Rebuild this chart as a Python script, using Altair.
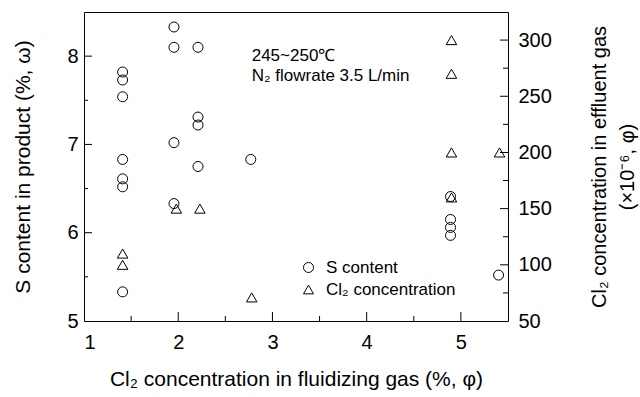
import altair as alt
import pandas as pd

# S content (left axis)
s_x = [1.41, 1.41, 1.41, 1.41, 1.41, 1.41, 1.41,
       1.955, 1.955, 1.955, 1.955,
       2.21, 2.21, 2.21, 2.21,
       2.77,
       4.89, 4.89, 4.89, 4.89,
       5.40]
s_y = [7.82, 7.73, 7.54, 6.83, 6.61, 6.52, 5.33,
       8.33, 8.10, 7.02, 6.33,
       8.10, 7.31, 7.22, 6.75,
       6.83,
       6.41, 6.15, 6.06, 5.97,
       5.52]

# Cl2 concentration in effluent gas (right axis)
c_x = [1.41, 1.41, 1.98, 2.23, 2.78, 4.90, 4.90, 4.90, 4.90, 5.41]
c_y = [110, 100, 150, 150, 71, 300, 270, 200, 160, 200]

x_major = [2, 3, 4, 5]
x_minor = [1.5, 2.5, 3.5, 4.5]
l_major = [6, 7, 8]
l_minor = [5.5, 6.5, 7.5]
r_major = [100, 150, 200, 250, 300]
r_minor = [75, 125, 175, 225, 275]

ann_x = [2.78, 2.78]
ann_y = [8.0, 7.78]
ann_t = ["245~250\u2103", "N\u2082 flowrate 3.5 L/min"]

series = ["S content", "Cl\u2082 concentration"]

FONT = "Liberation Sans"
W, H = 424, 309

xscale = alt.Scale(domain=[1, 5.5], nice=False, zero=False)
lscale = alt.Scale(domain=[5, 8.5], nice=False, zero=False)
rscale = alt.Scale(domain=[50, 325], nice=False, zero=False)

xaxis = alt.Axis(values=[1, 2, 3, 4, 5], format="d", labelPadding=11,
                 titlePadding=16, titleFontSize=21,
                 title="Cl\u2082 concentration in fluidizing gas (%, \u03c6)")
laxis = alt.Axis(values=[5, 6, 7, 8], format="d", labelPadding=6,
                 titlePadding=33, titleFontSize=21,
                 title="S content in product (%, \u03c9)")
raxis = alt.Axis(orient="right", values=[50] + r_major, format="d",
                 labelPadding=10, titlePadding=30, titleAngle=270,
                 titleLineHeight=28,
                 title=["Cl\u2082 concentration in effluent gas",
                        "(\u00d710\u207b\u2076, \u03c6)"])

shape_scale = alt.Scale(domain=series, range=["circle", "triangle-up"])
legend = alt.Legend(title=None, orient="none", legendX=216, legendY=247,
                    labelFontSize=17, labelFont=FONT, labelColor="black",
                    symbolStrokeColor="black", symbolFillColor="transparent",
                    symbolStrokeWidth=1, symbolSize=100, rowPadding=4,
                    labelOffset=9, padding=0)

s_df = pd.DataFrame({"x": s_x, "y": s_y, "series": series[0]})
c_df = pd.DataFrame({"x": c_x, "y": c_y, "series": series[1]})

circles = alt.Chart(s_df).mark_point(filled=False, color="black", size=100,
                                     strokeWidth=1, opacity=1).encode(
    x=alt.X("x:Q", scale=xscale, axis=xaxis),
    y=alt.Y("y:Q", scale=lscale, axis=laxis),
    shape=alt.Shape("series:N", scale=shape_scale, legend=legend),
)

triangles = alt.Chart(c_df).mark_point(filled=False, color="black", size=110,
                                       strokeWidth=1, opacity=1).encode(
    x=alt.X("x:Q", scale=xscale, axis=xaxis),
    y=alt.Y("y:Q", scale=rscale, axis=raxis),
    shape=alt.Shape("series:N", scale=shape_scale, legend=legend),
)

ann = alt.Chart(pd.DataFrame({"x": ann_x, "y": ann_y, "t": ann_t})).mark_text(
    align="left", baseline="middle", fontSize=17, font=FONT, color="black"
).encode(
    x=alt.X("x:Q", scale=xscale, axis=xaxis),
    y=alt.Y("y:Q", scale=lscale, axis=laxis),
    text="t:N",
)


def xticks(vals, length):
    return alt.Chart(pd.DataFrame({"v": vals})).mark_rule(
        color="black", strokeWidth=1).encode(
        x=alt.X("v:Q", scale=xscale, axis=xaxis),
        y=alt.value(H), y2=alt.value(H - length))


def lticks(vals, length):
    return alt.Chart(pd.DataFrame({"v": vals})).mark_rule(
        color="black", strokeWidth=1).encode(
        y=alt.Y("v:Q", scale=lscale, axis=laxis),
        x=alt.value(0), x2=alt.value(length))


def rticks(vals, length):
    return alt.Chart(pd.DataFrame({"v": vals})).mark_rule(
        color="black", strokeWidth=1).encode(
        y=alt.Y("v:Q", scale=rscale, axis=raxis),
        x=alt.value(W), x2=alt.value(W - length))


left = alt.layer(circles, ann, lticks(l_major, 8), lticks(l_minor, 4),
                 xticks(x_major, 9), xticks(x_minor, 5))
right = alt.layer(triangles, rticks(r_major, 8), rticks(r_minor, 5))

chart = alt.layer(left, right).resolve_scale(y="independent").properties(
    width=W, height=H, background="white",
    autosize=alt.AutoSizeParams(type="none"),
    padding={"left": 84, "top": 12, "right": 640 - 84 - W,
             "bottom": 397 - 12 - H},
).configure_view(stroke="black", strokeWidth=1).configure_axis(
    domain=False, ticks=False, grid=False,
    labelFont=FONT, titleFont=FONT, labelFontSize=20, titleFontSize=20,
    titleFontWeight="normal", labelColor="black", titleColor="black",
)

chart.save("out.html", embed_options={"renderer": "svg", "actions": False})
